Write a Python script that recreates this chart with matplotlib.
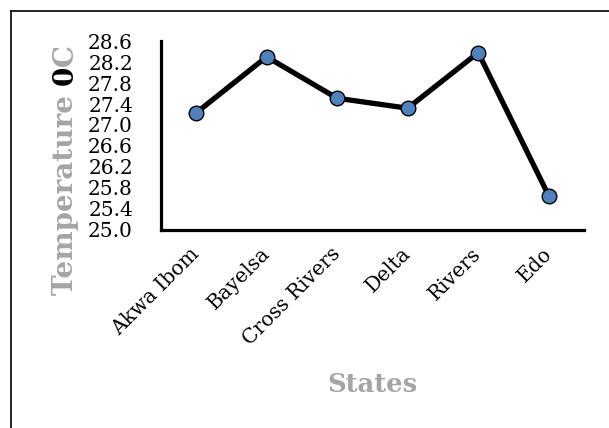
import numpy as np
import matplotlib
matplotlib.use('Agg')
import matplotlib.pyplot as plt
from matplotlib.lines import Line2D

# mean temperature per state
states = ['Akwa Ibom', 'Bayelsa', 'Cross Rivers', 'Delta', 'Rivers', 'Edo']
temperature = [27.23, 28.30, 27.51, 27.32, 28.38, 25.65]
yTicks = [25.0, 25.4, 25.8, 26.2, 26.6, 27.0, 27.4, 27.8, 28.2, 28.6]

fontsize = 14.5
grey = '#a5a5a5'

plt.rcParams['font.family'] = ['DejaVu Serif']

fig = plt.figure(figsize=(6.09, 4.28), dpi=100)
ax = fig.add_axes([0.264, 0.463, 0.695, 0.441])

x = np.arange(len(states))
ax.plot(x, temperature, color='black', linewidth=3.8,
        marker='o', markersize=10.5, markerfacecolor='#4f81bd',
        markeredgecolor='black', markeredgewidth=1.0, zorder=3)

# axes: only left and bottom, thick black
ax.set_xlim(-0.5, len(states) - 0.5)
ax.set_ylim(yTicks[0], yTicks[-1])
for side in ['top', 'right']:
    ax.spines[side].set_visible(False)
for side in ['left', 'bottom']:
    ax.spines[side].set_linewidth(2.3)
    ax.spines[side].set_capstyle('projecting')

ax.set_yticks(yTicks)
ax.set_yticklabels(['{0:.1f}'.format(v) for v in yTicks])
ax.set_xticks(x)
ax.set_xticklabels(states, rotation=45, ha='right', va='center',
                   rotation_mode='anchor')
ax.tick_params(axis='y', length=0, pad=20, labelsize=fontsize)
ax.tick_params(axis='x', length=0, pad=15, labelsize=fontsize)

# x axis title
fig.text(0.611, 1 - 384 / 428., 'States', ha='center', va='center',
         fontsize=18.5, fontweight='bold', color=grey)

# y axis title in three pieces, the 0 drawn in black
renderer = fig.canvas.get_renderer()
xBase = 73 / 609.
yPos = 1 - 295 / 428.
for piece, col in [('Temperature ', grey), ('0', 'black'), ('C', grey)]:
    t = fig.text(xBase, yPos, piece, rotation=90, rotation_mode='anchor',
                 ha='left', va='baseline', fontsize=20,
                 fontweight='bold', color=col)
    ext = t.get_window_extent(renderer)
    yPos += ext.height / fig.bbox.height

# frame around the chart (left and top edges visible)
fig.add_artist(Line2D([10.5 / 609, 10.5 / 609], [0, 1 - 10.5 / 428],
                      transform=fig.transFigure, color='black', linewidth=1.2))
fig.add_artist(Line2D([10.5 / 609, 1], [1 - 10.5 / 428, 1 - 10.5 / 428],
                      transform=fig.transFigure, color='black', linewidth=1.2))

fig.savefig('out.png', dpi=100, facecolor='white')
